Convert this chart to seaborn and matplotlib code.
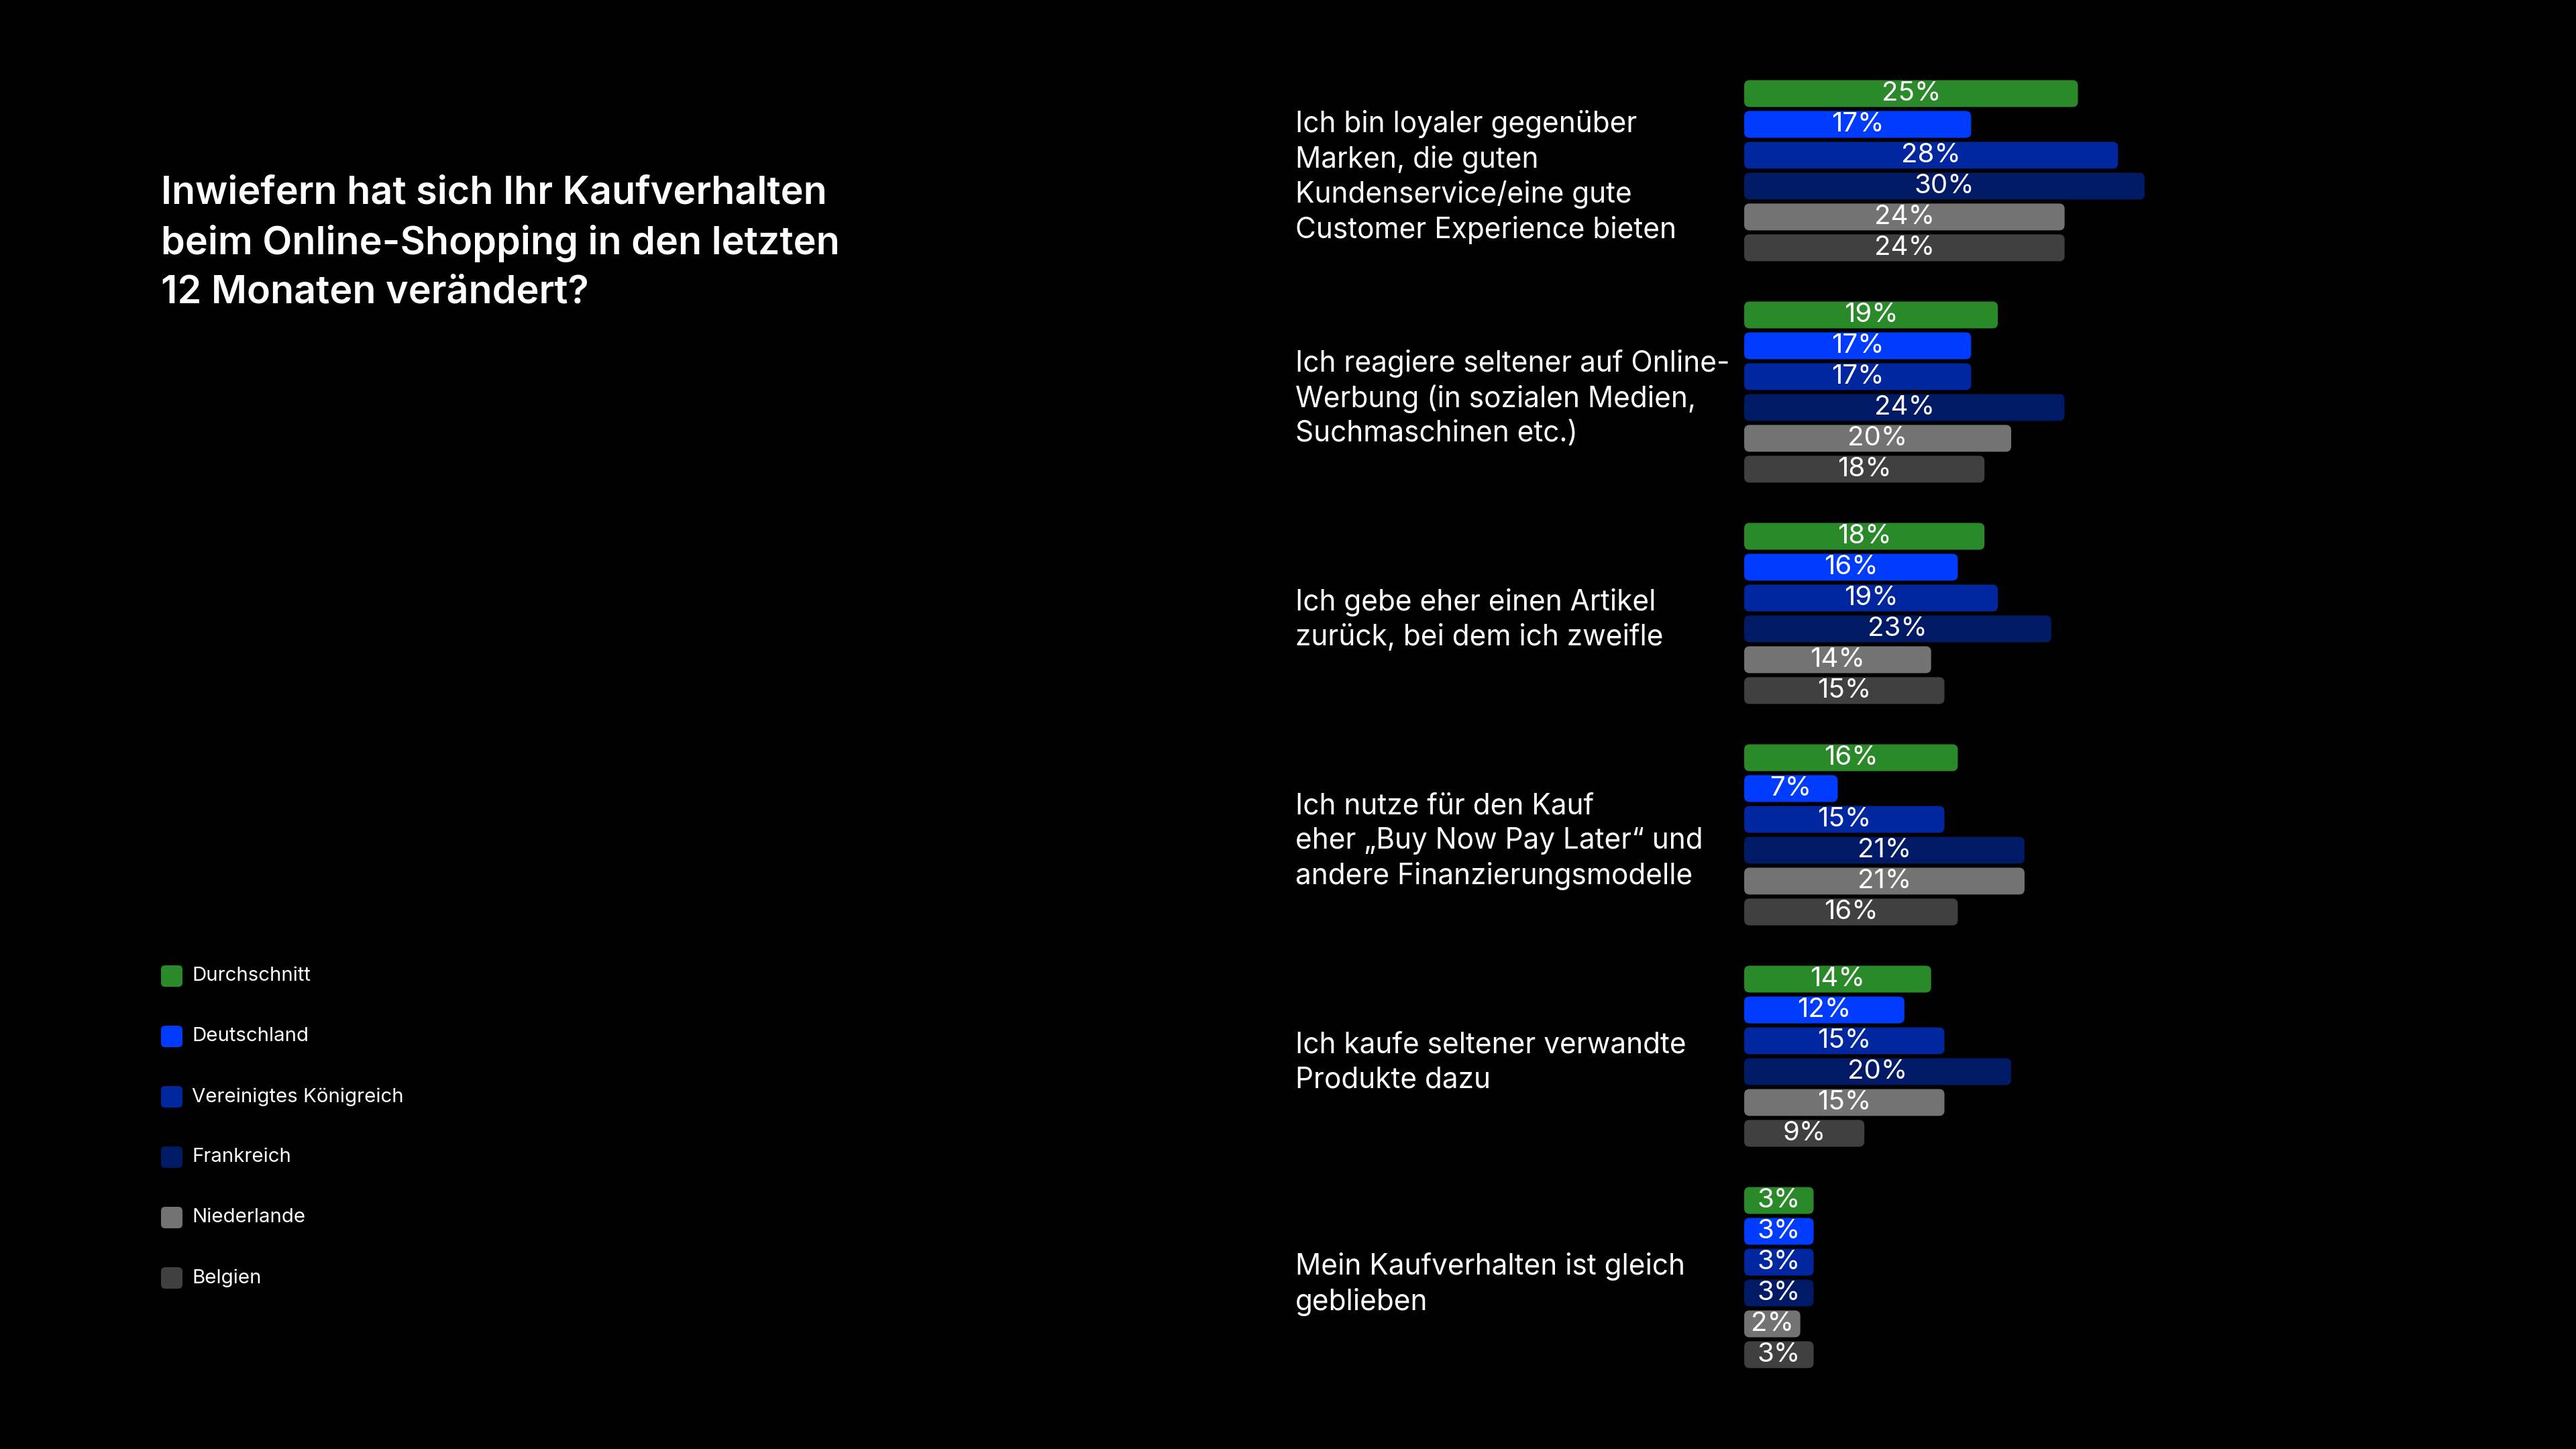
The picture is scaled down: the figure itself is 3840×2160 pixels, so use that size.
import pandas as pd
import seaborn as sns
import matplotlib.pyplot as plt
from matplotlib.patches import FancyBboxPatch

categories = [
    "Ich bin loyaler gegenüber\nMarken, die guten\nKundenservice/eine gute\nCustomer Experience bieten",
    "Ich reagiere seltener auf Online-\nWerbung (in sozialen Medien,\nSuchmaschinen etc.)",
    "Ich gebe eher einen Artikel\nzurück, bei dem ich zweifle",
    "Ich nutze für den Kauf\neher „Buy Now Pay Later“ und\nandere Finanzierungsmodelle",
    "Ich kaufe seltener verwandte\nProdukte dazu",
    "Mein Kaufverhalten ist gleich\ngeblieben",
]
countries = ["Durchschnitt", "Deutschland", "Vereinigtes Königreich", "Frankreich", "Niederlande", "Belgien"]

durchschnitt = [25, 19, 18, 16, 14, 3]
deutschland = [17, 17, 16, 7, 12, 3]
uk = [28, 17, 19, 15, 15, 3]
frankreich = [30, 24, 23, 21, 20, 3]
niederlande = [24, 20, 14, 21, 15, 2]
belgien = [24, 18, 15, 16, 9, 3]

colors = ["#2a8a2a", "#003cff", "#0027a0", "#001a66", "#737373", "#404040"]

title = "Inwiefern hat sich Ihr Kaufverhalten\nbeim Online-Shopping in den letzten\n12 Monaten verändert?"

series = [durchschnitt, deutschland, uk, frankreich, niederlande, belgien]
rows = []
for i, cat in enumerate(categories):
    for j, land in enumerate(countries):
        rows.append({"Frage": cat, "Land": land, "Wert": series[j][i]})
db = pd.DataFrame(rows)
# very short bars get a little extra length so the label fits
db["bar"] = db["Wert"].where(db["Wert"] >= 5, db["Wert"] + 2.2)

sns.set_style("dark", {"axes.facecolor": "black", "figure.facecolor": "black"})
plt.rcParams["font.family"] = ["Inter", "DejaVu Sans"]

fig = plt.figure(figsize=(38.4, 21.6), dpi=100, facecolor="black")
ax = fig.add_axes([0.6771, 0.0419, 796 / 3840, 0.9167])
ax.set_facecolor("black")

sns.barplot(data=db, y="Frage", x="bar", hue="Land", order=categories, hue_order=countries,
            palette=colors, orient="h", width=0.836, gap=0.13, saturation=1,
            legend=False, errorbar=None, ax=ax)

ax.set_xlim(0, 40)
ax.set_ylim(5.5, -0.5)

# rounded bars + centered labels
r = 8 / 19.9
aspect = (8 / 330) / r
for j, cont in enumerate(ax.containers):
    for i, bar in enumerate(cont):
        x, y = bar.get_x(), bar.get_y()
        w, h = bar.get_width(), bar.get_height()
        bar.set_visible(False)
        ax.add_patch(FancyBboxPatch((x, y), w, h, boxstyle=f"round,pad=0,rounding_size={r}",
                                    mutation_aspect=aspect, facecolor=colors[j], edgecolor="none"))
        ax.text(x + w / 2, y + h / 2, f"{series[j][i]}%", color="white", fontsize=29,
                ha="center", va="center")

for s in ax.spines.values():
    s.set_visible(False)
ax.set_xticks([])
ax.set_xlabel("")
ax.set_ylabel("")
ax.tick_params(axis="y", length=0, pad=482, labelsize=30.5, labelcolor="white")
for lbl in ax.get_yticklabels():
    lbl.set_ha("left")
    lbl.set_linespacing(1.32)

# title, sized so the first line is ~992 px wide
renderer = fig.canvas.get_renderer()
probe = fig.text(0, 0, title.split("\n")[0], fontsize=46, fontweight="semibold")
tfs = 46 * 992 / probe.get_window_extent(renderer).width
probe.remove()
# va="baseline" anchors the last line here
fig.text(240 / 3840, 1 - 452 / 2160, title, color="white", fontsize=tfs, fontweight="semibold",
         ha="left", va="baseline", linespacing=75 / (0.9 * tfs * 100 / 72))

# legend
for j, land in enumerate(countries):
    yc = 1455 + j * 90
    fig.patches.append(FancyBboxPatch((240 / 3840, 1 - (yc + 16) / 2160), 32 / 3840, 32 / 2160,
                                      boxstyle="round,pad=0,rounding_size=0.0016",
                                      mutation_aspect=3840 / 2160,
                                      transform=fig.transFigure, facecolor=colors[j], edgecolor="none"))
    fig.text(286 / 3840, 1 - yc / 2160, land, color="white", fontsize=21.2, ha="left", va="center")

fig.savefig("out.png", dpi=100, facecolor="black")
